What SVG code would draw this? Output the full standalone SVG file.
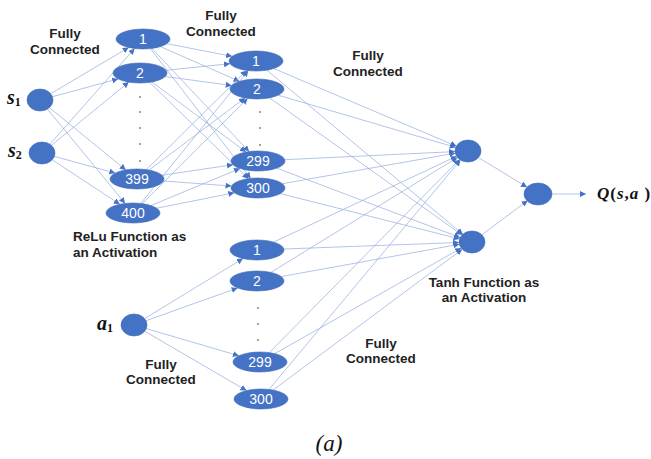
<svg xmlns="http://www.w3.org/2000/svg" width="651" height="459" viewBox="0 0 651 459">
<style>
.e{stroke:#97b1e0;stroke-width:0.75;fill:none}
.a{marker-end:url(#ah)}
.n{fill:#4472c4;stroke:#3f69b5;stroke-width:0.6}
.nl{font-family:"Liberation Sans",Arial,sans-serif;font-size:14px;fill:#ffffff;text-anchor:middle}
.lb{font-family:"Liberation Sans",Arial,sans-serif;font-size:13.5px;font-weight:bold;fill:#222222;text-anchor:middle}
.m{font-family:"Liberation Serif","DejaVu Serif",serif;font-weight:bold;font-style:italic;fill:#111111}
.d{fill:#333333}
</style>
<defs>
<marker id="ah" markerUnits="userSpaceOnUse" markerWidth="6" markerHeight="6" refX="6" refY="3" orient="auto">
<path d="M0,0 L6,3 L0,6 z" fill="#4472c4"/>
</marker>
</defs>
<rect width="651" height="459" fill="#ffffff"/>
<g id="connectors">
<line class="e a" x1="50.7" y1="93.7" x2="128.7" y2="47.5"/>
<line class="e a" x1="52.4" y1="96.7" x2="118.2" y2="78.9"/>
<line class="e a" x1="49.4" y1="107.6" x2="125.8" y2="169.9"/>
<line class="e a" x1="47.4" y1="109.0" x2="125.1" y2="203.4"/>
<line class="e a" x1="49.8" y1="144.2" x2="134.6" y2="48.5"/>
<line class="e a" x1="51.4" y1="145.4" x2="128.8" y2="82.1"/>
<line class="e a" x1="54.4" y1="156.4" x2="115.3" y2="173.1"/>
<line class="e a" x1="52.3" y1="159.8" x2="119.8" y2="204.3"/>
<line class="e a" x1="166.9" y1="43.7" x2="232.1" y2="56.3"/>
<line class="e a" x1="160.4" y1="46.6" x2="239.6" y2="81.4"/>
<line class="e a" x1="151.9" y1="48.4" x2="249.1" y2="151.6"/>
<line class="e a" x1="150.4" y1="48.6" x2="250.6" y2="178.4"/>
<line class="e a" x1="166.0" y1="70.3" x2="230.0" y2="63.7"/>
<line class="e a" x1="165.3" y1="76.5" x2="231.7" y2="85.5"/>
<line class="e a" x1="152.0" y1="82.0" x2="246.0" y2="152.0"/>
<line class="e a" x1="149.6" y1="82.3" x2="248.4" y2="178.7"/>
<line class="e a" x1="146.4" y1="169.6" x2="246.6" y2="70.4"/>
<line class="e a" x1="149.0" y1="170.0" x2="245.0" y2="98.0"/>
<line class="e a" x1="162.0" y1="175.3" x2="233.0" y2="164.7"/>
<line class="e a" x1="163.5" y1="181.0" x2="231.5" y2="186.0"/>
<line class="e a" x1="140.8" y1="203.4" x2="248.3" y2="70.6"/>
<line class="e a" x1="142.4" y1="203.6" x2="247.6" y2="98.4"/>
<line class="e a" x1="151.0" y1="205.5" x2="240.0" y2="168.5"/>
<line class="e a" x1="156.8" y1="208.2" x2="234.3" y2="192.8"/>
<line class="e a" x1="273.7" y1="68.5" x2="456.4" y2="146.1"/>
<line class="e a" x1="266.9" y1="70.1" x2="462.8" y2="234.3"/>
<line class="e a" x1="278.2" y1="95.2" x2="455.7" y2="147.4"/>
<line class="e a" x1="269.5" y1="97.9" x2="462.0" y2="234.9"/>
<line class="e a" x1="284.8" y1="159.7" x2="455.0" y2="151.6"/>
<line class="e a" x1="276.9" y1="168.2" x2="460.1" y2="237.5"/>
<line class="e a" x1="282.4" y1="183.7" x2="455.3" y2="153.2"/>
<line class="e a" x1="280.3" y1="193.6" x2="459.5" y2="238.9"/>
<line class="e a" x1="273.7" y1="242.1" x2="456.6" y2="156.3"/>
<line class="e a" x1="283.9" y1="249.0" x2="459.0" y2="242.5"/>
<line class="e a" x1="270.9" y1="272.4" x2="457.5" y2="157.5"/>
<line class="e a" x1="281.3" y1="276.6" x2="459.3" y2="244.3"/>
<line class="e a" x1="269.3" y1="352.6" x2="459.7" y2="159.4"/>
<line class="e a" x1="274.8" y1="353.6" x2="461.2" y2="248.1"/>
<line class="e a" x1="269.0" y1="389.5" x2="460.5" y2="160.0"/>
<line class="e a" x1="273.0" y1="390.1" x2="462.2" y2="249.3"/>
<line class="e a" x1="144.6" y1="318.6" x2="243.0" y2="258.6"/>
<line class="e a" x1="146.0" y1="320.7" x2="237.6" y2="288.0"/>
<line class="e a" x1="146.3" y1="328.6" x2="238.9" y2="355.8"/>
<line class="e a" x1="144.7" y1="331.2" x2="246.5" y2="390.6"/>
<line class="e a" x1="478.5" y1="157.5" x2="527.0" y2="187.2"/>
<line class="e a" x1="481.8" y1="234.8" x2="527.7" y2="200.5"/>
<line class="e a" x1="552" y1="194" x2="586" y2="194"/>
</g>
<g id="s1"><ellipse class="n" cx="40" cy="100" rx="13" ry="11"/></g>
<g id="s2"><ellipse class="n" cx="42" cy="153" rx="13" ry="11"/></g>
<g id="a1"><ellipse class="n" cx="134" cy="325" rx="13" ry="11"/></g>
<g id="h1_1"><ellipse class="n" cx="143" cy="39" rx="27" ry="10"/><text class="nl" x="143" y="44">1</text></g>
<g id="h1_2"><ellipse class="n" cx="140" cy="73" rx="27" ry="10"/><text class="nl" x="140" y="78">2</text></g>
<g id="h1_399"><ellipse class="n" cx="137" cy="179" rx="27" ry="10"/><text class="nl" x="137" y="184">399</text></g>
<g id="h1_400"><ellipse class="n" cx="133" cy="213" rx="27" ry="10"/><text class="nl" x="133" y="218">400</text></g>
<g id="h2_1"><ellipse class="n" cx="256" cy="61" rx="27" ry="10"/><text class="nl" x="256" y="66">1</text></g>
<g id="h2_2"><ellipse class="n" cx="257" cy="89" rx="27" ry="10"/><text class="nl" x="257" y="94">2</text></g>
<g id="h2_299"><ellipse class="n" cx="258" cy="161" rx="27" ry="10"/><text class="nl" x="258" y="166">299</text></g>
<g id="h2_300"><ellipse class="n" cx="258" cy="188" rx="27" ry="10"/><text class="nl" x="258" y="193">300</text></g>
<g id="ha_1"><ellipse class="n" cx="257" cy="250" rx="27" ry="10"/><text class="nl" x="257" y="255">1</text></g>
<g id="ha_2"><ellipse class="n" cx="257" cy="281" rx="27" ry="10"/><text class="nl" x="257" y="286">2</text></g>
<g id="ha_299"><ellipse class="n" cx="260" cy="362" rx="27" ry="10"/><text class="nl" x="260" y="367">299</text></g>
<g id="ha_300"><ellipse class="n" cx="261" cy="399" rx="27" ry="10"/><text class="nl" x="261" y="404">300</text></g>
<g id="t1"><ellipse class="n" cx="468" cy="151" rx="13" ry="11"/></g>
<g id="t2"><ellipse class="n" cx="472" cy="242" rx="13" ry="11"/></g>
<g id="out"><ellipse class="n" cx="538" cy="194" rx="14" ry="11"/></g>
<g id="dots">
<circle class="d" cx="140" cy="97" r="0.8"/>
<circle class="d" cx="140" cy="112" r="0.8"/>
<circle class="d" cx="140" cy="128" r="0.8"/>
<circle class="d" cx="140" cy="144" r="0.8"/>
<circle class="d" cx="140" cy="161" r="0.8"/>
<circle class="d" cx="260" cy="112" r="0.8"/>
<circle class="d" cx="260" cy="128" r="0.8"/>
<circle class="d" cx="260" cy="145" r="0.8"/>
<circle class="d" cx="258" cy="308" r="0.8"/>
<circle class="d" cx="258" cy="324" r="0.8"/>
<circle class="d" cx="258" cy="340" r="0.8"/>
</g>
<g id="labels">
<text class="lb" x="65" y="38">Fully</text>
<text class="lb" x="65" y="54">Connected</text>
<text class="lb" x="221" y="20">Fully</text>
<text class="lb" x="221" y="36">Connected</text>
<text class="lb" x="368" y="60">Fully</text>
<text class="lb" x="368" y="76">Connected</text>
<text class="lb" x="73" y="241" style="text-anchor:start">ReLu Function as</text>
<text class="lb" x="73" y="257" style="text-anchor:start">an Activation</text>
<text class="lb" x="484" y="287">Tanh Function as</text>
<text class="lb" x="484" y="302">an Activation</text>
<text class="lb" x="161" y="369">Fully</text>
<text class="lb" x="161" y="384">Connected</text>
<text class="lb" x="381" y="348">Fully</text>
<text class="lb" x="381" y="363">Connected</text>
<text class="m" x="7" y="104" font-size="20">s<tspan font-size="12" dy="2" font-style="normal">1</tspan></text>
<text class="m" x="8" y="157" font-size="20">s<tspan font-size="12" dy="2" font-style="normal">2</tspan></text>
<text class="m" x="97" y="330" font-size="20">a<tspan font-size="12" dy="2" font-style="normal">1</tspan></text>
<text class="m" x="597" y="199" font-size="17" letter-spacing="1">Q<tspan font-style="normal">(</tspan>s<tspan font-style="normal">,</tspan>a<tspan font-style="normal"> )</tspan></text>
<text x="329" y="451" font-family="'Liberation Serif','Times New Roman',serif" font-style="italic" font-size="23" fill="#111111" text-anchor="middle">(a)</text>
</g>
</svg>
